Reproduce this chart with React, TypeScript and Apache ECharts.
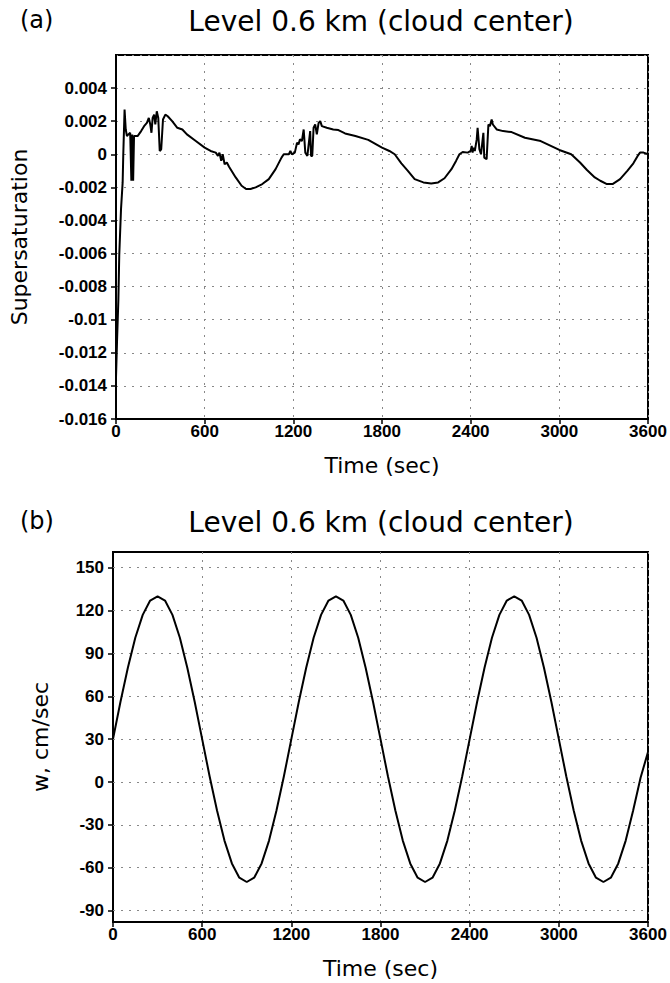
import React, { useEffect, useRef } from "react";
import * as echarts from "echarts";

const panelLabels = ["(a)", "(b)"];
const titles = ["Level 0.6 km (cloud center)", "Level 0.6 km (cloud center)"];
const xAxisName = "Time (sec)";
const yAxisNames = ["Supersaturation", "w, cm/sec"];
const wTicks = [-90, -60, -30, 0, 30, 60, 90, 120, 150];

// Panel (a): supersaturation
const satTime = [
  0, 7, 16, 22, 34, 45, 49, 58, 66, 74, 84, 96, 104, 110, 116, 122, 146, 170, 190, 209,
  222, 232, 240, 248, 258, 266, 276, 286, 296, 306, 318, 334, 350, 380, 415, 449, 480, 540, 600, 640,
  675, 690, 700, 712, 722, 735, 750, 765, 810, 850, 880, 910, 945, 990, 1034, 1080, 1120, 1135, 1170, 1180,
  1190, 1210, 1225, 1235, 1245, 1258, 1270, 1281, 1295, 1314, 1320, 1328, 1337, 1348, 1359, 1371, 1382, 1393, 1426, 1470,
  1505, 1550, 1620, 1707, 1800, 1850, 1886, 1931, 1975, 2021, 2080, 2133, 2180, 2223, 2270, 2301, 2324, 2346, 2380, 2400,
  2407, 2413, 2419, 2428, 2441, 2447, 2459, 2470, 2486, 2492, 2508, 2520, 2530, 2542, 2550, 2576, 2620, 2677, 2767, 2874,
  3000, 3080, 3093, 3140, 3187, 3240, 3277, 3322, 3360, 3411, 3460, 3501, 3530, 3546, 3570, 3600,
];
const satValue = [
  -0.0135, -0.0113, -0.0088, -0.0061, -0.0033, -0.0017, -0.0001, 0.0027, 0.0015, 0.0011, 0.0012, 0.0013, -0.0016, 0.0012, -0.0016, 0.0011, 0.0011, 0.0014, 0.0017, 0.0019,
  0.0022, 0.0018, 0.0013, 0.0022, 0.0024, 0.0018, 0.0026, 0.0022, 0.0002, 0.0003, 0.0021, 0.0024, 0.0023, 0.002, 0.0016, 0.0015, 0.0012, 0.0008, 0.0004, 0.0002,
  0.0001, -0.0001, 0.0001, -0.0004, 0.0, -0.0006, -0.0005, -0.00075, -0.0014, -0.0019, -0.0021, -0.0021, -0.002, -0.0018, -0.0015, -0.0009, -0.0002, 0.0, 0.0, 0.0002,
  0.0, 0.0001, 0.0007, 0.0006, 0.0009, 0.0008, 0.0015, 0.0001, -0.0001, 0.0014, -0.0001, -0.0001, 0.0016, 0.0018, 0.0012, 0.0019, 0.002, 0.0017, 0.0016, 0.0015,
  0.00146, 0.00126, 0.0011, 0.00087, 0.0004, 0.0002, 0.0, -0.00055, -0.001, -0.0015, -0.0017, -0.00176, -0.0017, -0.00145, -0.0009, -0.0004, 0.0, 0.00014, 0.0001, 0.0002,
  0.0005, 0.0001, 0.0004, 0.0002, 0.0009, 0.0016, 0.0003, 0.0, 0.0013, -0.0002, -0.0003, 0.0018, 0.0017, 0.0021, 0.0018, 0.0015, 0.0014, 0.00134, 0.001, 0.0008,
  0.00026, 0.0, -0.0001, -0.0005, -0.00095, -0.0014, -0.0016, -0.0018, -0.0018, -0.0015, -0.001, -0.00055, -0.0001, 0.0001, 0.0001, 0.0,
];

// Panel (b): vertical velocity
const wTime = [
  0, 50, 100, 150, 200, 250, 300, 350, 400, 450, 500, 550, 600, 650, 700, 750, 800, 850, 900, 950, 1000, 1050, 1100, 1150,
  1200, 1250, 1300, 1350, 1400, 1450, 1500, 1550, 1600, 1650, 1700, 1750, 1800, 1850, 1900, 1950, 2000, 2050, 2100, 2150, 2200, 2250, 2300, 2350,
  2400, 2450, 2500, 2550, 2600, 2650, 2700, 2750, 2800, 2850, 2900, 2950, 3000, 3050, 3100, 3150, 3200, 3250, 3300, 3350, 3400, 3450, 3500, 3550, 3600,
];
const wValue = [
  30, 56, 80, 101, 117, 127, 130, 127, 117, 101, 80, 56, 30, 4, -20, -41, -57, -67, -70, -67, -57, -41, -20, 4,
  30, 56, 80, 101, 117, 127, 130, 127, 117, 101, 80, 56, 30, 4, -20, -41, -57, -67, -70, -67, -57, -41, -20, 4,
  30, 56, 80, 101, 117, 127, 130, 127, 117, 101, 80, 56, 30, 4, -20, -41, -57, -67, -70, -67, -57, -41, -20, 3, 21,
];

const FONT_TEXT = "'DejaVu Sans', sans-serif";
const FONT_TICK = "'Liberation Sans', Arial, sans-serif";

const gridLineStyle = { color: "#888", width: 1, type: [2, 6] as any };

function xAxisFor(gridIndex: number) {
  return {
    type: "value",
    gridIndex,
    min: 0,
    max: 3600,
    interval: 600,
    name: xAxisName,
    nameLocation: "middle",
    nameGap: 35,
    nameTextStyle: { fontFamily: FONT_TEXT, fontSize: 22, color: "#000" },
    axisLine: { show: true, onZero: false, lineStyle: { color: "#000", width: 2 } },
    axisTick: { show: true, inside: false, length: 5, lineStyle: { color: "#000", width: 1.5 } },
    axisLabel: {
      color: "#000",
      fontFamily: FONT_TICK,
      fontWeight: "bold",
      fontSize: 17,
      margin: 4,
      formatter: (v: number) => String(v),
    },
    splitLine: { show: true, lineStyle: gridLineStyle },
  };
}

export default function App() {
  const ref = useRef<HTMLDivElement>(null);

  useEffect(() => {
    if (!ref.current) return;
    const chart = echarts.init(ref.current, undefined, { renderer: "svg" });

    const satData = satTime.map((t, i) => [t, satValue[i]]);
    const wData = wTime.map((t, i) => [t, wValue[i]]);

    const option: any = {
      animation: false,
      backgroundColor: "#fff",
      grid: [
        { left: 113, right: 22, top: 55, height: 364, show: true, borderColor: "#000", borderWidth: 2, backgroundColor: "transparent" },
        { left: 113, right: 22, top: 552, height: 370, show: true, borderColor: "#000", borderWidth: 2, backgroundColor: "transparent" },
      ],
      xAxis: [xAxisFor(0), xAxisFor(1)],
      yAxis: [
        {
          type: "value",
          gridIndex: 0,
          min: -0.016,
          max: 0.006,
          interval: 0.002,
          name: yAxisNames[0],
          nameLocation: "middle",
          nameGap: 86,
          nameTextStyle: { fontFamily: FONT_TEXT, fontSize: 22, color: "#000" },
          axisLine: { show: true, onZero: false, lineStyle: { color: "#000", width: 2 } },
          axisTick: { show: true, length: 5, lineStyle: { color: "#000", width: 1.5 } },
          axisLabel: {
            color: "#000",
            fontFamily: FONT_TICK,
            fontWeight: "bold",
            fontSize: 17,
            margin: 9,
            showMaxLabel: false,
            formatter: (v: number) => {
              if (Math.abs(v - 0.006) < 1e-9) return "";
              const r = parseFloat(v.toFixed(4));
              return r === 0 ? "0" : String(r);
            },
          },
          splitLine: { show: true, lineStyle: gridLineStyle },
        },
        {
          type: "value",
          gridIndex: 1,
          min: -98,
          max: 161,
          name: yAxisNames[1],
          nameLocation: "middle",
          nameGap: 62,
          nameTextStyle: { fontFamily: FONT_TEXT, fontSize: 22, color: "#000" },
          axisLine: { show: true, onZero: false, lineStyle: { color: "#000", width: 2 } },
          axisTick: { show: true, length: 5, customValues: wTicks, lineStyle: { color: "#000", width: 1.5 } },
          axisLabel: {
            color: "#000",
            fontFamily: FONT_TICK,
            fontWeight: "bold",
            fontSize: 17,
            margin: 9,
            customValues: wTicks,
          },
          splitLine: { show: false },
        },
      ],
      graphic: [
        { type: "text", left: 20, top: 8, style: { text: panelLabels[0], font: `24px ${FONT_TEXT}`, fill: "#000" } },
        { type: "text", left: 20, top: 509, style: { text: panelLabels[1], font: `24px ${FONT_TEXT}`, fill: "#000" } },
        { type: "text", x: 381, y: 21, style: { text: titles[0], font: `28px ${FONT_TEXT}`, fill: "#000", textAlign: "center", textVerticalAlign: "middle" } },
        { type: "text", x: 381, y: 522, style: { text: titles[1], font: `28px ${FONT_TEXT}`, fill: "#000", textAlign: "center", textVerticalAlign: "middle" } },
      ],
      series: [
        {
          type: "line",
          xAxisIndex: 0,
          yAxisIndex: 0,
          data: satData,
          showSymbol: false,
          symbol: "none",
          lineStyle: { color: "#000", width: 2 },
          z: 5,
        },
        {
          type: "line",
          xAxisIndex: 1,
          yAxisIndex: 1,
          data: wData,
          showSymbol: false,
          symbol: "none",
          lineStyle: { color: "#000", width: 2 },
          z: 5,
          markLine: {
            silent: true,
            symbol: "none",
            label: { show: false },
            lineStyle: gridLineStyle,
            data: wTicks.map((v) => ({ yAxis: v })),
            z: 1,
          },
        },
      ],
    };

    chart.setOption(option);
    return () => chart.dispose();
  }, []);

  return (
    <div
      ref={ref}
      style={{ position: "absolute", left: 0, top: 0, width: 670, height: 983 }}
    />
  );
}
